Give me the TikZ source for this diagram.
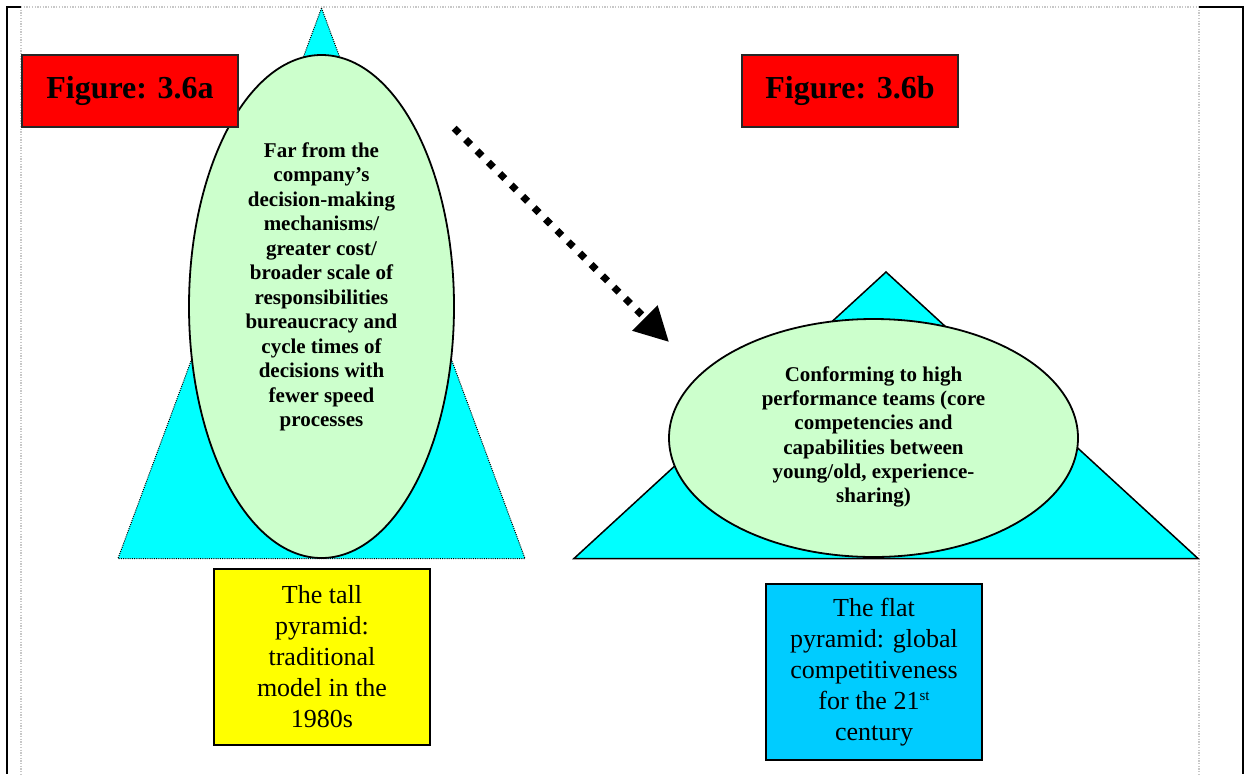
\documentclass[tikz,border=0pt]{standalone}
\usepackage{fontspec}
\setmainfont{Liberation Serif}
\usetikzlibrary{shapes.geometric,arrows.meta}

\definecolor{pyrcyan}{HTML}{00FFFF}
\definecolor{ovalgreen}{HTML}{CCFFCC}
\definecolor{figred}{HTML}{FF0000}
\definecolor{tallyellow}{HTML}{FFFF00}
\definecolor{flatblue}{HTML}{00CCFF}
\definecolor{guidegray}{HTML}{C8C8C8}

\begin{document}
\begin{tikzpicture}[x=1pt,y=-1pt,
  frame/.style={draw=black, line width=2pt},
  guide/.style={draw=guidegray, line width=1.3pt, dash pattern=on 1.3pt off 1.4pt},
  tallpyr/.style={fill=pyrcyan, draw=black, line width=1pt, dash pattern=on 1pt off 1.2pt},
  flatpyr/.style={fill=pyrcyan, draw=black, line width=1.5pt, line join=miter},
  oval/.style={ellipse, draw=black, line width=1.8pt, fill=ovalgreen, inner sep=0pt},
  ovaltext/.style={align=center, inner sep=0pt, font=\fontsize{21}{24.5}\selectfont\bfseries},
  figbox/.style={draw=black!85, line width=1.5pt, fill=figred, minimum width=216pt,
    minimum height=72pt, inner sep=0pt, font=\fontsize{32}{38}\selectfont\bfseries},
  captionbox/.style={draw=black, line width=2pt, minimum width=216pt, minimum height=176pt,
    inner sep=0pt, align=center, font=\fontsize{26}{31}\selectfont},
  shiftarrow/.style={line width=7pt, dash pattern=on 7pt off 9.1pt,
    -{Triangle[length=34pt, width=34pt]}}
]
\useasboundingbox (0,0) rectangle (1244,774);

% page frame and layout guides
\draw[guide] (21,7) -- (1199,7);
\draw[guide] (21,7) -- (21,774);
\draw[guide] (1199,7) -- (1199,774);
\draw[frame] (7,6) -- (7,774);
\draw[frame] (1242.5,6) -- (1242.5,774);
\draw[frame] (6,7) -- (21,7);
\draw[frame] (1199,7) -- (1243.5,7);

% tall pyramid
\coordinate (tallapex) at (321.5,8);
\coordinate (tallleft) at (118,558.5);
\coordinate (tallright) at (525,558.5);
\filldraw[tallpyr] (tallapex) -- (tallright) -- (tallleft) -- cycle;
\node[oval, minimum width=265pt, minimum height=503pt] (tallOval) at (321.5,306.5) {};
\node[ovaltext] (tallText) at (321.5,287) {Far from the\\company’s\\decision-making\\mechanisms/\\greater cost/\\broader scale of\\responsibilities\\bureaucracy and\\cycle times of\\decisions with\\fewer speed\\processes};
\node[figbox] (figA) at (130,91) {Figure: 3.6a};

% flat pyramid
\node[figbox] (figB) at (850,91) {Figure: 3.6b};
\coordinate (flatapex) at (886,272);
\coordinate (flatleft) at (574,558.5);
\coordinate (flatright) at (1198,558.5);
\filldraw[flatpyr] (flatapex) -- (flatright) -- (flatleft) -- cycle;
\node[oval, minimum width=409pt, minimum height=238pt] (flatOval) at (873.5,438) {};
\node[ovaltext, font=\fontsize{21}{24.3}\selectfont\bfseries] (flatText) at (873.5,437) {Conforming to high\\performance teams (core\\competencies and\\capabilities between\\young/old, experience-\\sharing)};

% transition arrow
\coordinate (shiftstart) at (454.2,128.2);
\coordinate (shiftend) at (669,342);
\draw[shiftarrow] (shiftstart) -- (shiftend);

% captions
\node[captionbox, fill=tallyellow] (tallCaption) at (322,657) {The tall\\pyramid:\\traditional\\model in the\\1980s};
\node[captionbox, fill=flatblue] (flatCaption) at (874,672) {The flat\\pyramid: global\\competitiveness\\for the 21\raisebox{9pt}{\fontsize{15}{15}\selectfont st}\\century};
\end{tikzpicture}
\end{document}
